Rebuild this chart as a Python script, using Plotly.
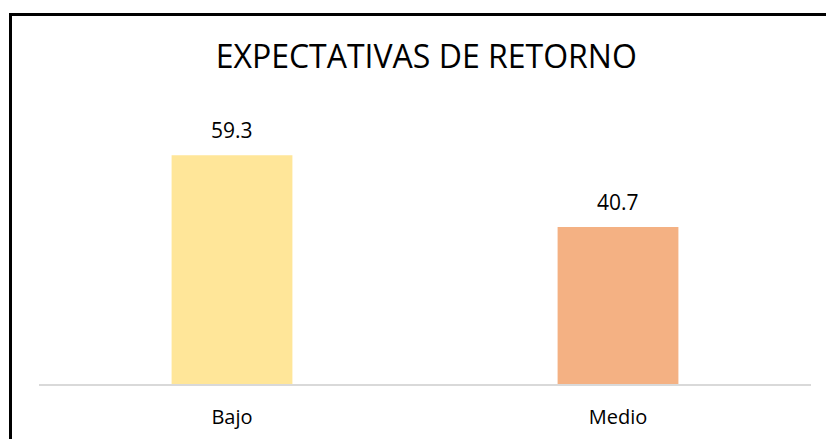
import plotly.graph_objects as go

categories = ["Bajo", "Medio"]
values = [59.3, 40.7]
bar_colors = ["#FFE699", "#F4B183"]
title_text = "EXPECTATIVAS DE RETORNO"

W, H = 826, 439
ml, mr, mt, mb = 39, 15, 114, 55
pw, ph = W - ml - mr, H - mt - mb

fig = go.Figure()
fig.add_trace(go.Bar(
    x=categories, y=values,
    marker=dict(color=bar_colors, line=dict(width=0)),
    hoverinfo="skip",
))

for c, v in zip(categories, values):
    fig.add_annotation(
        x=c, y=v, text=f"{v:.1f}", showarrow=False,
        yanchor="middle", yshift=25,
        font=dict(family="Open Sans", size=21, color="#000000"),
    )

# outer frame (extends past the visible window on right and bottom)
fig.add_shape(
    type="rect", xref="paper", yref="paper",
    x0=(10.5 - ml) / pw, x1=1.2,
    y0=-0.5, y1=(H - mb - 14.5) / ph,
    line=dict(color="#000000", width=3),
    fillcolor="rgba(0,0,0,0)", layer="above",
)

fig.update_layout(
    width=W, height=H,
    margin=dict(l=ml, r=mr, t=mt, b=mb, pad=0),
    paper_bgcolor="white", plot_bgcolor="white",
    bargap=0.687,
    showlegend=False,
    hovermode=False,
    title=dict(
        text=title_text, x=0.516, xanchor="center",
        y=1 - 57 / H, yanchor="middle", yref="container",
        font=dict(family="Open Sans", size=32, color="#000000"),
    ),
    xaxis=dict(
        showline=True, linecolor="#D9D9D9", linewidth=2,
        ticks="", showgrid=False, zeroline=False, automargin=False,
        tickfont=dict(family="Open Sans", size=20, color="#000000"),
        ticklabelstandoff=14,
    ),
    yaxis=dict(
        range=[0, 70], visible=False, showgrid=False, zeroline=False,
        automargin=False,
    ),
)

fig.write_html(
    "out.html",
    config={"displayModeBar": False, "staticPlot": True},
    post_script="document.body.style.margin='0';document.body.style.overflow='hidden';",
)
